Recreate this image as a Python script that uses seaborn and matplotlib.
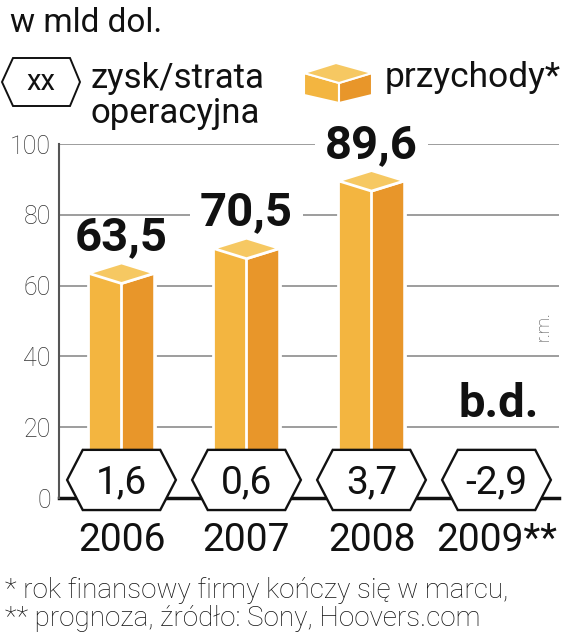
import numpy as np
import pandas as pd
import matplotlib
matplotlib.use("Agg")
import matplotlib.pyplot as plt
from matplotlib.patches import Polygon, Rectangle
import seaborn as sns

# data
years = ["2006", "2007", "2008", "2009**"]
revenue = [63.5, 70.5, 89.6, np.nan]          # przychody, mld dol.
revenue_labels = ["63,5", "70,5", "89,6", "b.d."]
op_profit = [1.6, 0.6, 3.7, -2.9]             # zysk/strata operacyjna
y_ticks = [0, 20, 40, 60, 80, 100]

LEFT = "#F3B540"
RIGHT = "#E8962A"
TOP = "#F6C862"

sns.set_style("white")
plt.rcParams["font.family"] = ["Roboto", "DejaVu Sans"]

df = pd.DataFrame({"year": years, "revenue": revenue})

fig = plt.figure(figsize=(5.67, 6.4), dpi=100)
ax = fig.add_axes([59 / 567, 142 / 640, 500 / 567, 354 / 640])

sns.barplot(data=df, x="year", y="revenue", order=years, color=LEFT,
            saturation=1, width=0.53, edgecolor="white", linewidth=2,
            errorbar=None, ax=ax, zorder=2)

ax.set_xlim(-0.5, 3.5)
ax.set_ylim(0, 100)
ax.set_yticks(y_ticks)
ax.set_yticklabels([str(t) for t in y_ticks], fontsize=18, fontweight="light", color="#333333")
ax.set_xticks(range(len(years)))
ax.set_xticklabels(years, fontsize=28, color="#111111")
ax.tick_params(axis="x", length=0, pad=17)
ax.tick_params(axis="y", length=0, pad=6)
ax.set_xlabel("")
ax.set_ylabel("")
ax.yaxis.grid(True, color="#959595", linewidth=1.3, zorder=0)
ax.set_axisbelow(True)
for s in ["top", "right"]:
    ax.spines[s].set_visible(False)
ax.spines["left"].set_color("#555555")
ax.spines["left"].set_linewidth(1.5)
ax.spines["bottom"].set_color("#111111")
ax.spines["bottom"].set_linewidth(2.5)
ax.spines["bottom"].set_zorder(1)

# pseudo 3D: darker right half and a rhombus top on every bar
d = 2.9
for p in ax.patches:
    h = p.get_height()
    if not np.isfinite(h) or h == 0:
        continue
    x0 = p.get_x()
    x1 = x0 + p.get_width()
    xc = (x0 + x1) / 2
    ax.add_patch(Polygon([(xc, 0), (xc, h - d), (x1, h), (x1, 0)], closed=True,
                         facecolor=RIGHT, edgecolor="white", linewidth=2, zorder=2.1))
    ax.add_patch(Polygon([(x0, h), (xc, h - d), (x1, h), (xc, h + d)], closed=True,
                         facecolor=TOP, edgecolor="white", linewidth=2, zorder=2.2))

# revenue labels
texts = []
for i, (v, lab) in enumerate(zip(revenue, revenue_labels)):
    if np.isfinite(v):
        t = ax.text(i, v + 6.5, lab, ha="center", va="baseline", fontsize=34,
                    fontweight="bold", color="#111111", zorder=4)
        texts.append(t)
    else:
        ax.text(i + 0.02, 23, lab, ha="center", va="baseline", fontsize=34,
                fontweight="bold", color="#111111", zorder=4)

# white gaps in the gridlines behind the revenue labels
fig.canvas.draw()
inv = ax.transData.inverted()
for t in texts:
    bb = t.get_window_extent()
    (ax0, _), (ax1, _) = inv.transform([(bb.x0, bb.y0), (bb.x1, bb.y1)])
    x, y = t.get_position()
    ax.add_patch(Rectangle((ax0 - 0.08, y - 0.5), (ax1 - ax0) + 0.16, 10,
                           facecolor="white", edgecolor="none", zorder=1.5, clip_on=False))

# hexagons with operating profit
hw, fw, yb, yt = 0.435, 0.31, -3.4, 13.6
ym = (yb + yt) / 2
for i, v in enumerate(op_profit):
    hexa = [(i - hw, ym), (i - fw, yt), (i + fw, yt), (i + hw, ym), (i + fw, yb), (i - fw, yb)]
    ax.add_patch(Polygon(hexa, closed=True, facecolor="white", edgecolor="#111111",
                         linewidth=1.7, zorder=3, clip_on=False))
    ax.text(i, 1.2, f"{v:.1f}".replace(".", ","), ha="center", va="baseline",
            fontsize=28, color="#111111", zorder=4, clip_on=False)

ax.text(3.38, 48.5, "r.m.", rotation=90, ha="center", va="center", fontsize=13,
        fontweight="light", color="#444444")

# overlay in pixel coordinates for title, legend and footnotes
ov = fig.add_axes([0, 0, 1, 1], facecolor="none")
ov.set_xlim(0, 567)
ov.set_ylim(640, 0)
ov.axis("off")

ov.text(10, 32, "w mld dol.", fontsize=24, va="baseline", color="#111111")

ov.add_patch(Polygon([(2, 82), (13, 58), (70, 58), (80, 82), (70, 106), (13, 106)],
                     closed=True, facecolor="white", edgecolor="#111111", linewidth=1.4))
ov.text(41, 82, "xx", fontsize=21, ha="center", va="center", color="#111111")
ov.text(90, 88, "zysk/strata", fontsize=25, va="baseline", color="#111111")
ov.text(90, 123, "operacyjna", fontsize=25, va="baseline", color="#111111")

ov.add_patch(Polygon([(304, 73), (339, 83), (339, 103), (304, 95)], closed=True,
                     facecolor=LEFT, edgecolor="white", linewidth=1.5))
ov.add_patch(Polygon([(339, 83), (372, 73), (372, 95), (339, 103)], closed=True,
                     facecolor=RIGHT, edgecolor="white", linewidth=1.5))
ov.add_patch(Polygon([(304, 73), (336, 63), (372, 73), (339, 83)], closed=True,
                     facecolor=TOP, edgecolor="white", linewidth=1.5))
ov.text(385, 87, "przychody*", fontsize=25.5, va="baseline", color="#111111")

ov.text(5, 598, "* rok finansowy firmy kończy się w marcu,", fontsize=20,
        fontweight="light", va="baseline", color="#111111")
ov.text(5, 626, "** prognoza, źródło: Sony, Hoovers.com", fontsize=20,
        fontweight="light", va="baseline", color="#111111")

fig.savefig("out.png", dpi=100)
